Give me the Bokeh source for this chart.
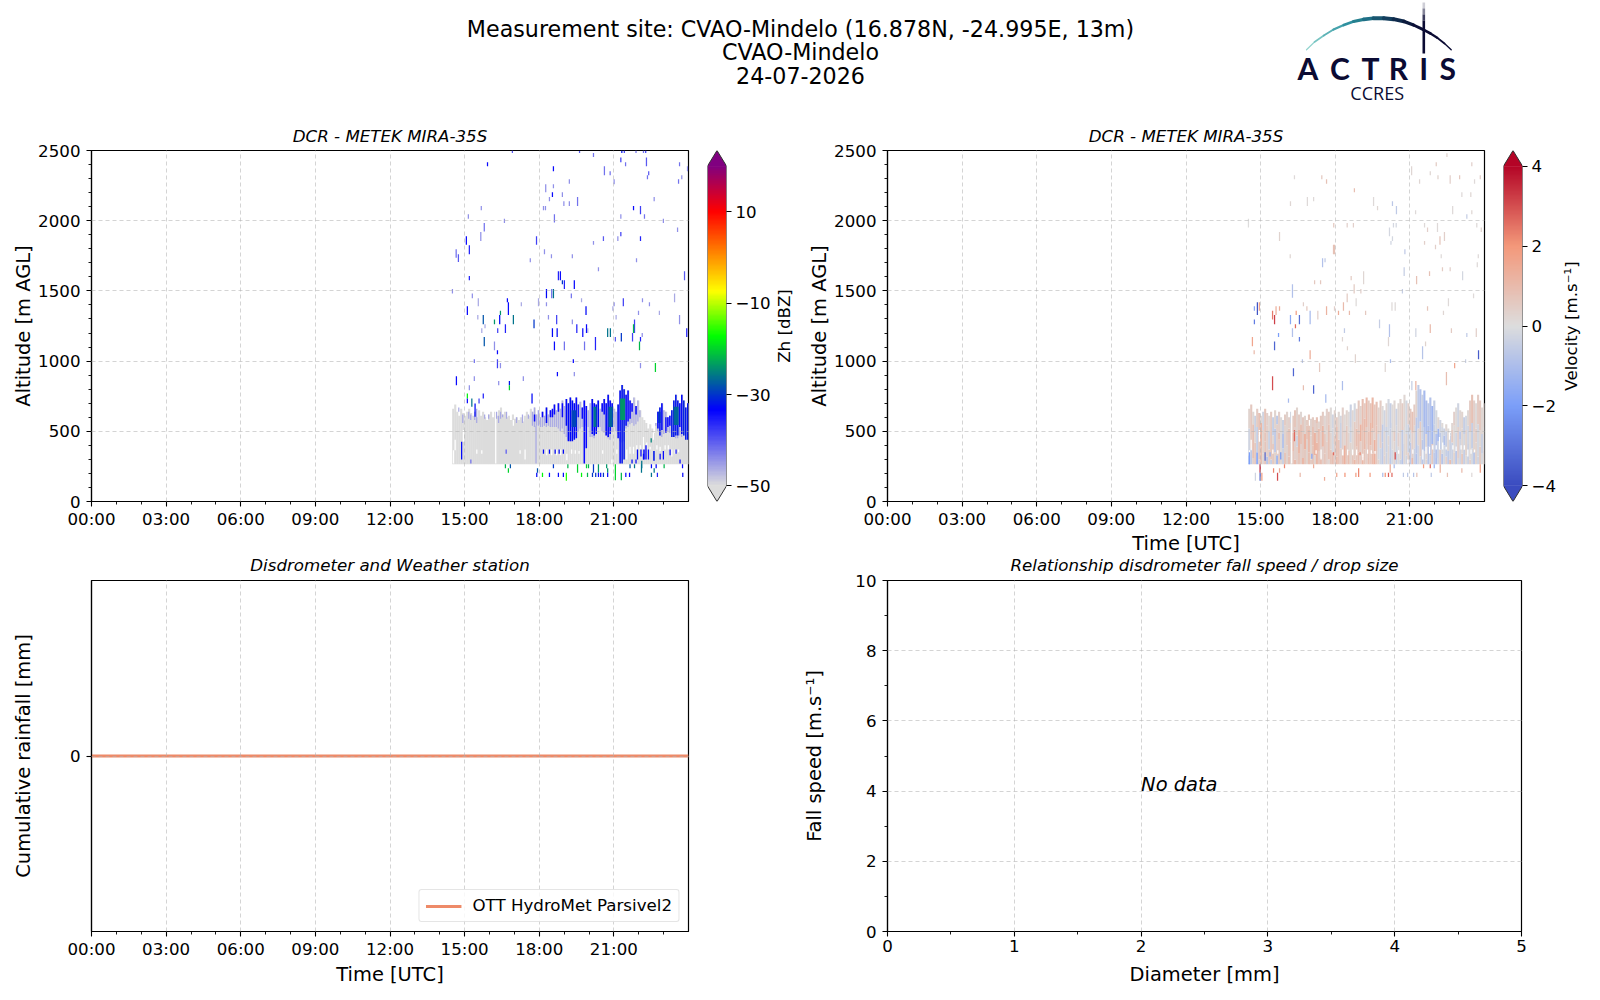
import math
import numpy as np
from bokeh.embed import file_html
from bokeh.resources import INLINE
from bokeh.plotting import figure
from bokeh.layouts import column, row
from bokeh.models import (ColumnDataSource, FixedTicker, Legend, LegendItem, LinearColorMapper, Title)
from bokeh.core.properties import value
from bokeh.transform import transform

# ---------------------------------------------------------------- texts
site_lines = ["Measurement site: CVAO-Mindelo (16.878N, -24.995E, 13m)", "CVAO-Mindelo", "24-07-2026"]
radar_title = "DCR - METEK MIRA-35S"
rain_title = "Disdrometer and Weather station"
fall_title = "Relationship disdrometer fall speed / drop size"
hour_ticks = [0, 3, 6, 9, 12, 15, 18, 21]
hour_labels = ["00:00", "03:00", "06:00", "09:00", "12:00", "15:00", "18:00", "21:00"]

# ---------------------------------------------------------------- radar columns (altitudes in m, 0.08 h columns from 14.5 h)
col_start = 14.5
col_step = 0.08
gray_top = [660,690,640,610,660,630,610,640,660,630,
            610,640,600,650,610,640,600,580,620,640,
            600,640,610,650,670,620,640,600,610,580,
            620,590,600,580,600,570,610,640,610,660,
            640,670,620,650,600,640,610,670,620,650,
            640,690,650,700,660,720,680,730,700,740,
            720,700,740,690,710,670,720,680,650,700,
            730,700,690,720,660,700,730,700,760,720,
            700,660,640,690,790,830,800,760,790,720,
            700,740,680,720,650,600,580,560,520,550,
            520,490,560,640,670,700,650,640,600,610,
            650,720,760,720,700,760,720,670,700]
gray_bottom = 265
light_lo = [0,0,0,640,0,560,0,0,590,580,
            0,580,560,0,0,0,590,0,590,0,
            0,0,590,560,590,600,0,590,0,0,
            0,0,560,0,0,560,0,0,590,0,
            540,530,540,540,530,530,540,530,540,530,
            530,530,530,520,500,520,480,460,440,430,
            440,450,470,500,520,530,530,540,530,460,
            460,450,510,520,530,500,490,470,450,440,
            500,530,500,480,430,420,430,520,530,550,
            560,540,550,570,600,0,0,0,0,0,
            0,0,540,500,470,460,480,500,500,490,
            480,460,450,450,470,460,470,480,480]
light_hi = [0,0,0,670,0,620,0,0,640,620,
            0,640,660,0,0,0,620,0,620,0,
            0,0,640,610,640,620,0,640,0,0,
            0,0,600,0,0,620,0,0,620,0,
            640,670,620,650,600,640,610,670,620,650,
            640,690,650,700,660,720,680,730,700,740,
            720,700,740,690,710,670,720,680,650,700,
            730,700,690,720,660,700,730,700,760,720,
            700,660,640,690,790,830,800,760,790,720,
            700,740,680,720,650,0,0,0,0,0,
            0,0,560,640,670,700,650,640,600,610,
            650,720,760,720,700,760,720,670,700]
deep_lo = [0]*40 + [0,570,0,0,0,600,0,560,0,600,
            600,620,0,640,0,600,0,540,430,430,
            430,440,450,600,0,590,270,380,0,0,
            480,470,480,530,0,640,620,470,460,480,
            530,0,0,450,270,270,300,540,570,590,
            640,0,620,0,0,0,300,300,0,0,
            0,290,0,520,470,510,0,490,530,540,
            460,460,470,470,530,480,470,440,440]
deep_hi = [0]*40 + [0,620,0,0,0,640,0,670,0,650,
            660,690,0,700,0,700,0,730,700,740,
            720,700,740,690,0,670,720,680,0,0,
            730,700,690,720,0,700,730,700,760,720,
            700,0,0,690,790,830,800,760,790,720,
            700,0,680,0,0,0,370,400,0,0,
            0,360,0,640,670,700,0,600,600,610,
            650,720,760,720,700,760,720,670,700]
deep_db = [-33]*40 + [-33,-34,-33,-33,-33,-34,-33,-33,-33,-34,
            -34,-34,-33,-34,-33,-34,-34,-33,-33,-33,
            -33,-33,-34,-35,-33,-34,-34,-34,-33,-33,
            -33,-33,-33,-33,-33,-34,-34,-33,-33,-33,
            -33,-33,-33,-33,-33,-32,-32,-33,-34,-34,
            -34,-33,-34,-33,-33,-33,-34,-36,-33,-33,
            -33,-32,-33,-33,-32,-33,-33,-35,-34,-34,
            -32,-32,-32,-32,-33,-33,-31,-32,-32]
light_db = -46

# teal cores inside the strongest streaks: start hour, end hour, lo, hi, dBZ
core_t0 = [19.30, 20.18, 20.78, 21.25, 23.40, 22.78]
core_t1 = [19.50, 20.30, 20.95, 21.45, 23.60, 22.88]
core_lo = [530, 530, 530, 580, 545, 560]
core_hi = [650, 675, 675, 733, 675, 640]
core_db = [-29, -26, -27, -24, -27, -30]

# white holes inside the mass: hour, lo, hi
gaps = [(16.25,270,700),(14.95,425,510),(14.62,365,440),(14.55,270,365),(15.69,340,365),(15.49,340,370),
        (16.96,540,580),(17.23,340,365),(17.43,300,370),(18.30,330,370),(18.50,330,370),(18.70,330,370),
        (18.86,330,370),(19.11,294,340),(20.92,270,300),(21.12,340,370),(21.65,340,390),(21.79,340,390),
        (21.92,370,400),(22.06,370,400),(22.19,370,460),(22.32,370,420),(22.46,370,390),(22.59,440,490),
        (22.73,370,400),(22.86,360,390),(23.06,370,400),(23.19,370,400),(23.33,320,370),(23.46,340,370),
        (23.60,350,370),(21.52,300,370),(19.30,340,370),(19.45,340,365),(19.60,340,360),(20.55,340,365)]

# isolated reflectivity returns: hour, lo, hi, dBZ
zh_specks = [
 (16.92,2483,2500,-40),(19.62,2483,2497,-40),(20.18,2454,2483,-42),(21.32,2483,2500,-32),(21.42,2483,2500,-38),
 (21.89,2483,2500,-42),(22.19,2483,2500,-42),(22.28,2483,2500,-38),(15.92,2388,2416,-34),(18.57,2352,2388,-34),
 (20.62,2324,2388,-42),(20.85,2324,2352,-42),(21.28,2416,2450,-38),(21.47,2388,2416,-42),(22.31,2388,2450,-40),
 (22.40,2324,2352,-40),(22.35,2295,2324,-42),(23.64,2388,2416,-42),(23.96,2352,2388,-44),(23.73,2295,2324,-44),
 (23.60,2264,2295,-42),(19.21,2264,2295,-44),(21.01,2260,2295,-44),(18.26,2203,2260,-44),(18.57,2231,2260,-44),
 (18.53,2169,2203,-34),(18.93,2169,2203,-44),(18.41,2139,2169,-44),(18.99,2105,2139,-44),(19.21,2105,2139,-44),
 (19.54,2105,2169,-42),(22.62,2139,2169,-44),(18.17,2074,2105,-44),(18.25,2074,2105,-44),(15.67,2074,2105,-44),
 (21.79,2074,2105,-34),(22.07,2046,2105,-38),(21.28,2013,2046,-44),(22.23,2013,2046,-42),(15.15,2013,2046,-44),
 (18.61,1987,2046,-42),(16.60,1984,2013,-44),(22.99,1984,2013,-44),(15.79,1923,1984,-42),(23.56,1920,1951,-44),
 (15.65,1856,1920,-44),(15.07,1828,1889,-34),(17.89,1828,1889,-38),(20.58,1856,1889,-40),(21.28,1889,1920,-38),
 (21.16,1856,1889,-44),(22.07,1856,1889,-36),(20.18,1828,1856,-44),(14.66,1737,1797,-42),(14.75,1706,1761,-40),
 (15.19,1761,1825,-36),(18.21,1761,1797,-44),(18.49,1733,1761,-44),(19.33,1733,1761,-44),(17.64,1704,1733,-44),
 (21.91,1704,1733,-44),(20.38,1640,1668,-44),(18.77,1576,1640,-36),(18.85,1576,1640,-34),(15.19,1576,1607,-36),
 (23.84,1576,1640,-40),(18.93,1547,1576,-30),(19.01,1514,1576,-36),(19.41,1514,1576,-34),(18.29,1448,1514,-33),
 (18.50,1448,1514,-42),(18.57,1448,1514,-26),(14.51,1481,1514,-44),(15.31,1448,1481,-44),(19.29,1448,1481,-42),
 (23.44,1419,1481,-46),(15.55,1391,1448,-46),(16.72,1419,1448,-34),(16.76,1329,1419,-34),(15.11,1329,1391,-34),
 (17.28,1391,1419,-46),(17.97,1391,1448,-46),(18.29,1391,1419,-44),(19.70,1419,1448,-46),(19.88,1329,1391,-33),
 (21.38,1391,1448,-38),(21.01,1391,1419,-44),(22.15,1419,1448,-44),(22.43,1391,1419,-44),(20.96,1358,1391,-46),
 (21.99,1329,1358,-44),(22.83,1329,1358,-46),(15.53,1296,1329,-46),(15.75,1263,1329,-28),(16.20,1263,1296,-24),
 (16.41,1263,1329,-33),(16.44,1329,1358,-24),(16.96,1263,1329,-26),(16.64,1201,1263,-36),(18.37,1296,1329,-44),
 (18.70,1263,1329,-38),(19.33,1263,1296,-44),(19.90,1201,1263,-34),(19.51,1201,1263,-36),(23.64,1263,1329,-44),
 (21.83,1201,1296,-38),(21.79,1201,1263,-22),(21.09,1296,1329,-46),(17.79,1234,1296,-30),(15.82,1234,1263,-46),
 (15.69,1201,1234,-46),(16.33,1201,1234,-38),(18.53,1172,1234,-33),(18.72,1172,1234,-33),(19.75,1172,1234,-34),
 (19.95,1201,1234,-46),(20.75,1172,1234,-26),(20.86,1172,1234,-26),(21.30,1139,1201,-30),(21.06,1139,1172,-40),
 (21.75,1139,1201,-38),(22.07,1139,1172,-36),(22.14,1172,1201,-44),(23.93,1172,1234,-36),(15.79,1106,1172,-28),
 (16.20,1077,1139,-44),(18.61,1077,1139,-34),(19.01,1077,1139,-42),(19.82,1077,1139,-42),(20.26,1077,1172,-36),
 (22.03,1077,1139,-22),(16.32,1049,1077,-34),(15.39,987,1013,-42),(16.32,949,1013,-38),(16.44,949,987,-44),
 (19.37,987,1013,-34),(22.07,949,987,-44),(22.67,923,987,-20),(18.73,892,923,-34),(19.41,892,923,-44),
 (14.67,828,892,-34),(15.39,859,892,-44),(16.37,828,859,-44),(16.80,828,859,-32),(16.80,792,828,-20),
 (17.36,859,892,-44),
 (16.64,237,265,-22),(16.76,204,237,-20),(16.84,237,265,-28),(18.57,237,265,-30),(19.15,237,265,-22),
 (19.54,204,265,-20),(19.90,237,265,-20),(19.98,237,265,-22),(20.18,204,265,-30),(20.38,204,265,-24),
 (20.71,237,265,-24),(20.75,204,237,-24),(21.06,152,265,-20),(21.30,152,204,-22),(21.65,237,265,-28),
 (21.83,237,265,-26),(22.11,204,265,-26),(22.51,237,265,-33),(22.62,204,237,-26),(22.70,237,265,-33),
 (23.02,237,265,-22),(23.76,237,265,-34),(17.93,204,237,-28),(17.90,175,204,-33),(18.13,175,204,-18),
 (18.41,175,204,-34),(18.77,175,204,-34),(18.97,175,204,-34),(19.09,147,204,-16),(19.70,175,204,-18),
 (19.94,175,204,-22),(20.14,175,204,-30),(20.27,175,204,-30),(20.38,175,204,-34),(20.47,175,204,-34),
 (20.58,175,204,-30),(20.75,175,204,-34),(21.48,175,204,-34),(21.63,175,204,-34),(22.51,175,204,-26),
 (22.75,175,204,-36),(23.77,175,204,-34),
 (15.11,733,769,-18),(15.11,700,733,-34),(15.29,674,733,-26),(15.58,698,733,-38),(15.75,733,769,-36),
 (15.42,603,698,-33),(15.19,793,828,-44),(17.71,698,769,-33),
 (18.17,340,370,-33),(18.41,340,370,-33),(18.64,340,370,-33),(18.80,340,370,-33),(18.97,340,370,-33),
 (21.95,300,370,-33),(22.09,320,370,-34),(22.19,300,340,-33),(22.39,300,370,-34),(22.50,420,450,-25),
 (22.86,300,340,-33),(22.99,300,360,-34),(23.26,330,370,-34),(23.50,340,370,-35),(23.66,270,300,-34),
 (22.12,237,290,-26),(21.89,270,300,-34),(21.73,270,300,-33),(14.88,300,425,-33),(15.25,270,300,-42),
 (17.87,270,540,-46),(16.67,340,370,-40)]

# velocity per column in three layers (m/s), with the altitude of the layer limits
v_low = [-1.2,-0.6,0.4,0.6,-1.6,0.4,0.9,0.2,0.7,-0.8,
         0.5,-0.5,0.6,0.3,-1.2,0.5,0.2,-0.4,0.7,0.3,
         0.8,0.2,0.6,1.0,0.4,0.7,0.4,1.1,0.6,0.3,
         0.9,0.5,0.7,0.2,1.1,0.6,0.9,0.4,0.7,0.4,
         0.2,0.7,0.9,0.4,1.0,0.7,0.4,0.8,1.3,0.5,
         0.9,0.3,0.7,1.1,0.6,0.9,0.4,1.1,0.7,0.4,
         0.9,0.6,1.0,1.3,0.6,0.3,-0.3,-0.6,0.3,-0.4,
         0.2,-0.6,-0.2,0.3,-0.5,0.1,-0.4,-0.8,0.2,-0.3,
         0.4,-0.6,1.0,-0.4,-0.9,-0.3,0.2,-0.7,-0.4,0.3,
         -0.8,-0.4,0.6,-0.6,-1.0,-0.3,0.5,-0.8,-0.2,0.4,
         -0.6,0.9,-0.4,0.3,-0.7,0.2,-0.3,0.6,-0.5,0.1,
         -0.4,0.4,-0.2,-0.7,0.3,-0.3,0.5,-0.1,0.2]
v_mid = [-0.3,0.5,0.8,0.2,-0.5,0.6,1.1,0.3,0.7,0.4,
         -0.4,0.6,0.2,-0.6,0.4,0.8,0.1,-0.8,0.3,0.5,
         0.7,0.2,0.9,0.4,-0.3,1.1,0.8,0.5,1.2,0.7,
         1.0,0.3,0.8,1.2,0.5,0.9,0.4,1.1,0.6,0.2,
         0.8,0.3,-0.2,0.5,0.8,0.2,-0.4,0.4,0.2,0.6,
         0.3,-0.3,0.2,0.5,0.9,0.8,1.2,0.7,1.0,0.5,
         0.8,1.1,0.6,0.3,0.8,-0.2,0.4,-0.6,0.2,-0.4,
         0.2,-0.5,0.1,0.5,-0.3,0.4,0.2,-0.6,0.1,0.3,
         -0.4,-0.2,0.4,0.2,-0.7,0.2,0.5,-0.3,-0.8,0.2,
         -1.0,-0.7,-1.2,-0.4,-0.9,-1.3,-0.6,-0.2,-0.9,-0.5,
         0.2,-0.4,0.5,0.1,-0.3,0.4,-0.6,0.2,-0.2,0.3,
         -0.3,0.1,-0.5,0.3,0.4,-0.2,0.2,-0.4,0.1]
v_up = [0.3,0.6,0.2,-0.4,0.5,0.8,0.2,-0.3,0.7,0.4,
        0.2,0.5,-0.5,0.3,-0.6,0.4,0.1,-0.4,0.5,0.3,
        0.4,-0.2,0.5,0.7,0.3,0.5,0.2,0.6,0.3,0.5,
        0.7,0.3,0.5,0.4,0.8,0.3,0.6,0.5,0.2,0.4,
        0.5,0.1,-0.3,0.3,0.5,0.2,-0.2,0.4,0.1,0.3,
        0.1,-0.4,0.2,-0.2,0.4,0.6,0.3,0.9,0.5,1.0,
        0.5,0.7,1.1,0.6,0.8,0.3,0.5,0.1,-0.3,0.2,
        -0.2,-0.5,0.1,0.2,-0.4,0.2,0.3,0.5,0.2,-0.2,
        0.4,0.6,0.8,0.5,0.3,-0.6,-0.9,-0.4,-1.1,-1.0,
        -0.6,-0.9,-1.3,-0.5,-0.2,0.2,-0.3,0.1,-0.4,0.2,
        0.1,-0.2,0.2,0.4,0.1,-0.3,0.2,0.3,-0.5,-0.2,
        0.2,0.5,0.8,0.4,0.1,0.5,0.6,0.2,0.2]
low_tops = [330,380,310,420,350,300,390,340,430,320,
            370,300,410,350,330,440,310,380,350,400,
            320,430,360,300,390,340,410,310,370,440,
            350,300,400,330,420,360,310,390,340,430,
            300,370,350,410,320,440,380,330,400,310,
            360,420,340,300,390,350,430,320,370,410,
            310,400,340,440,360,300,380,420,330,350,
            400,310,370,430,340,390,300,360,410,330,
            350,420,310,380,340,400,320,440,360,300,
            390,330,410,350,310,430,370,340,400,320,
            360,300,420,350,390,310,440,340,370,330,
            410,300,380,350,420,320,390,340,360]
mid_tops = [520,480,550,500,530,470,560,510,490,540,
            500,530,470,520,550,490,510,480,540,500,
            520,560,490,530,470,510,550,500,480,540,
            510,470,530,490,560,520,500,540,480,510,
            550,490,520,470,530,500,560,480,510,540,
            490,530,500,570,520,480,550,510,590,530,
            500,560,520,490,540,480,510,550,500,530,
            470,520,560,500,540,490,580,510,530,480,
            550,510,490,540,600,520,570,500,530,480,
            540,510,500,550,480,520,490,530,470,500,
            480,470,510,540,490,530,500,520,480,510,
            540,500,560,490,520,550,510,480,530]

# isolated velocity returns: hour, lo, hi, m/s
vel_specks = [
 (22.49,2454,2480,0.3),(22.06,2388,2416,0.5),(23.49,2388,2416,0.4),(21.07,2324,2388,0.2),(21.82,2324,2352,0.2),
 (16.36,2295,2324,0.1),(17.46,2295,2324,0.6),(17.65,2264,2295,0.8),(22.13,2295,2324,0.3),(22.62,2264,2324,0.4),
 (23.00,2295,2324,0.6),(21.39,2264,2295,0.2),(23.83,2295,2324,0.4),(23.60,2264,2295,0.1),(18.77,2203,2231,0.9),
 (23.09,2169,2203,0.1),(23.45,2169,2203,0.2),(16.20,2105,2139,0.2),(16.88,2105,2169,0.1),(17.13,2139,2169,0.1),
 (19.54,2105,2169,0.1),(19.70,2074,2105,0.2),(20.30,2105,2139,-0.7),(20.46,2046,2105,-0.6),(21.23,2046,2074,0.1),
 (22.72,2046,2105,0.1),(23.29,2013,2046,-0.5),(23.49,2046,2074,0.2),(14.51,1951,2013,0.0),(17.94,1951,1984,0.6),
 (18.48,1951,1984,0.4),(18.73,1951,1984,0.4),(21.59,1951,1984,0.1),(20.34,1951,1984,-0.2),(20.45,1951,1984,-0.2),
 (20.18,1889,1951,-0.2),(21.71,1920,1951,0.4),(22.11,1920,1984,0.1),(23.69,1951,1984,0.1),(23.87,1920,1951,0.3),
 (15.76,1856,1920,0.3),(20.30,1856,1889,-0.2),(20.24,1828,1856,-0.3),(22.21,1828,1889,0.7),(22.39,1856,1920,0.4),
 (21.59,1828,1856,0.4),(22.03,1797,1828,0.4),(17.93,1761,1828,0.8),(17.97,1761,1828,0.8),(20.80,1761,1797,-0.6),
 (16.19,1733,1761,0.2),(22.26,1733,1761,0.1),(23.75,1733,1761,0.1),(17.59,1704,1733,-0.6),(17.49,1668,1733,-0.9),
 (20.77,1607,1668,-0.5),(23.71,1668,1704,0.1),(22.31,1640,1668,0.5),(22.62,1640,1668,0.4),(21.79,1607,1640,0.8),
 (23.12,1576,1640,-0.2),(19.14,1547,1640,0.2),(21.27,1547,1607,0.8),(18.64,1576,1607,0.5),(16.28,1452,1547,-0.9),
 (18.76,1481,1547,0.5),(17.17,1547,1576,0.6),(17.41,1547,1576,0.6),(19.03,1481,1514,0.4),(20.70,1481,1514,-0.5),
 (23.56,1448,1481,0.1),(18.48,1419,1481,0.5),(22.55,1391,1448,0.1),(18.84,1391,1448,0.1),
 (14.87,1329,1419,-3.8),(14.95,1358,1419,1.6),(14.75,1358,1391,-1.8),(15.48,1296,1358,2.4),(15.56,1263,1329,3.2),
 (15.62,1329,1391,1.3),(15.76,1358,1391,1.4),(14.75,1263,1296,-2.8),(16.20,1263,1329,-1.7),(16.56,1263,1329,-3.2),
 (16.43,1329,1358,1.8),(16.40,1234,1263,2.6),(16.72,1391,1419,0.4),(16.86,1358,1391,0.6),(16.99,1263,1358,-1.1),
 (17.30,1296,1358,0.4),(17.65,1329,1391,1.2),(17.97,1358,1391,0.4),(18.13,1329,1358,1.4),(18.33,1358,1419,1.0),
 (18.57,1329,1358,1.0),(19.22,1329,1358,0.6),(20.28,1358,1419,0.1),(20.41,1358,1419,0.1),(21.71,1358,1391,0.7),
 (22.35,1329,1358,0.2),(19.78,1234,1296,-0.5),(20.18,1172,1263,-0.9),(18.37,1201,1234,-0.6),(21.24,1172,1234,-0.3),
 (21.82,1201,1263,1.0),(22.67,1201,1234,0.5),(23.29,1172,1201,-0.6),(23.67,1172,1234,0.4),(15.72,1172,1201,-2.0),
 (16.28,1172,1234,-0.9),(16.56,1139,1172,-2.9),(18.29,1139,1172,0.2),(20.14,1106,1172,0.2),(14.67,1106,1172,1.6),
 (15.56,1077,1139,-3.4),(14.74,1049,1077,1.0),(16.99,1013,1077,1.4),(18.49,1077,1106,0.3),(21.63,1106,1139,0.3),
 (21.51,1013,1106,-0.8),(23.76,1013,1077,-3.6),(18.81,987,1049,0.3),(16.68,987,1013,-0.7),(20.22,987,1013,-1.0),
 (23.24,987,1013,-0.4),(17.37,923,987,0.6),(20.01,923,987,0.2),(22.80,949,987,1.6),(16.32,892,949,-3.4),
 (22.47,828,923,0.9),(15.48,792,892,3.0),(16.72,792,828,0.9),(17.13,768,828,-3.4),(18.29,792,859,-1.0),
 (21.24,792,859,1.2),(21.08,792,859,-0.5),(17.62,703,764,-1.1),(16.12,703,733,-1.1),
 (14.98,204,265,3.8),(14.98,147,204,-3.6),(15.52,204,237,2.2),(15.76,204,237,1.4),(15.68,147,204,3.0),
 (15.96,237,265,2.2),(15.05,147,204,1.8),(14.79,147,204,-0.3),(16.59,175,204,1.0),(17.13,237,265,1.4),
 (17.57,147,175,1.4),(18.06,175,204,1.6),(18.39,175,204,2.0),(18.83,175,204,1.8),(18.94,175,237,2.2),
 (19.40,175,204,1.8),(19.91,175,204,-1.0),(20.01,175,204,2.0),(20.14,175,204,2.8),(20.28,175,204,2.6),
 (20.21,204,265,1.4),(20.37,237,265,-1.0),(20.74,175,204,-0.6),(20.91,175,204,-0.6),(21.15,175,204,-0.8),
 (21.28,175,204,0.8),(21.82,237,265,2.6),(21.86,175,204,-0.6),(21.55,237,265,1.8),(21.98,237,265,-1.4),
 (22.22,204,265,1.2),(22.51,175,204,0.8),(23.09,204,237,1.0),(23.49,175,204,0.1),(23.83,204,265,1.8),
 (14.55,265,350,-2.0),(15.18,290,350,-3.2),(15.38,320,350,-1.5),(15.81,300,350,-2.2),(16.36,430,510,2.6),
 (17.06,305,340,-1.8),(17.93,330,350,2.6),(20.41,300,350,3.0),(19.00,330,350,2.2)]

# rainfall and (empty) disdrometer data
rain_hours = [0, 6, 12, 18, 24]
rain_cumul = [0, 0, 0, 0, 0]
legend_label = "OTT HydroMet Parsivel2"
no_data_text = "No data"
no_data_at = (2, 4)

# logo artwork (page coordinates)
logo_arc_x = [1306,1314,1323.3,1333,1343.3,1353,1363.3,1373,1383.3,1393,1403.3,1413,1423.3,1430,1436.7,1444,1450.7]
logo_arc_y = [49.3,41.5,35,29,24.5,21,18.9,17.8,17.7,18.7,20.9,24.5,29.3,33,37.3,43,49.3]
logo_arc_col = ["#93d4cf","#78c4c2","#5cb2b6","#45a2ac","#2f909f","#25808f","#1f6f86","#195670",
                "#143f5e","#0f2a4c","#0c1a3d","#0b0f36","#0b0b33","#0b0b33","#0b0b33","#0b0b33"]
logo_arc_w = [1.2,1.6,2,2.4,2.8,3.2,3.6,4,4,3.8,3.4,3,2.6,2.2,1.8,1.4]
logo_letters = ["A", "C", "T", "R", "I", "S"]
logo_letter_x = [1307.3, 1339.3, 1370, 1398, 1423.3, 1447.3]

# ---------------------------------------------------------------- colours
FONT = "DejaVu Sans"
INK = "#0b0b33"
GRID = "#b0b0b0"
TOP_H = 38
FRAME_H = 351
BOTTOM_H = 60

def ramp(stops, colors, n=256):
    cs = np.array([[int(c[i:i + 2], 16) for i in (1, 3, 5)] for c in colors], float)
    xs = np.linspace(stops[0], stops[-1], n)
    rgb = np.stack([np.interp(xs, stops, cs[:, k]) for k in range(3)], 1).round().astype(int)
    return ["#%02x%02x%02x" % tuple(v) for v in rgb]

zh_pal = ramp([-50, -33.4, -17.3, -7.5, 10, 20], ["#dcdcdc", "#0000ff", "#00ff00", "#ffff00", "#ff0000", "#800080"])
v_pal = ramp([-4, -2, 0, 2, 4], ["#3b4cc0", "#7c9ff9", "#dddddd", "#f4987a", "#b40426"])
zh_map = LinearColorMapper(palette=zh_pal, low=-50, high=20)
v_map = LinearColorMapper(palette=v_pal, low=-4, high=4)

# ---------------------------------------------------------------- helpers
def style_axis(ax, major, minor=None, labels=None, tick_standoff=3, label_standoff=0):
    ax.ticker = FixedTicker(ticks=major, minor_ticks=minor or [])
    if labels:
        ax.major_label_overrides = labels
    ax.major_label_text_font = FONT
    ax.major_label_text_font_size = "16.67px"
    ax.major_label_text_color = "black"
    ax.major_label_standoff = tick_standoff
    ax.axis_label_text_font = FONT
    ax.axis_label_text_font_size = "19.44px"
    ax.axis_label_text_font_style = "normal"
    ax.axis_label_text_color = "black"
    ax.axis_label_standoff = label_standoff
    ax.axis_line_color = "black"
    ax.axis_line_width = 1.2
    ax.major_tick_line_color = "black"
    ax.major_tick_line_width = 1.1
    ax.minor_tick_line_color = "black"
    ax.minor_tick_line_width = 0.9
    ax.major_tick_in = 0
    ax.major_tick_out = 5
    ax.minor_tick_in = 0
    ax.minor_tick_out = 3

def panel(title, b_left, frame_w, b_right, b_top, frame_h, b_bottom, xr, yr, title_standoff, clear_border=False):
    p = figure(width=b_left + frame_w + b_right, height=b_top + frame_h + b_bottom,
               x_range=xr, y_range=yr, output_backend="svg", toolbar_location=None,
               min_border_left=b_left, min_border_right=b_right, min_border_top=b_top, min_border_bottom=b_bottom,
               background_fill_color="white", border_fill_color="white")
    if clear_border:
        p.border_fill_alpha = 0
    p.outline_line_color = "black"
    p.outline_line_width = 1.2
    p.outline_line_alpha = 1
    for g in (p.xgrid[0], p.ygrid[0]):
        g.level = "overlay"
        g.grid_line_color = GRID
        g.grid_line_alpha = 0.55
        g.grid_line_width = 1
        g.grid_line_dash = "4 3"
    p.add_layout(Title(text=title, text_font=FONT, text_font_size="16.67px", text_font_style="italic",
                       text_color="black", align="center", standoff=title_standoff), "above")
    return p

def quads(p, left, right, lo, hi, val, mapper):
    src = ColumnDataSource(dict(left=left, right=right, bottom=lo, top=hi, val=val))
    p.quad(left="left", right="right", bottom="bottom", top="top", source=src,
           fill_color=transform("val", mapper), line_color=None)

def whites(p):
    left = [g[0] - 0.025 for g in gaps]
    right = [g[0] + 0.025 for g in gaps]
    p.quad(left=left, right=right, bottom=[g[1] for g in gaps], top=[g[2] for g in gaps],
           fill_color="white", line_color=None)

def specks(p, rows, mapper):
    left = [r[0] - 0.025 for r in rows]
    right = [r[0] + 0.025 for r in rows]
    quads(p, left, right, [r[1] for r in rows], [r[2] for r in rows], [r[3] for r in rows], mapper)

def colorbar(low, high, tri, b_right, major, labels, mapper, low_col, high_col):
    p = figure(width=19 + b_right, height=TOP_H + FRAME_H + BOTTOM_H, x_range=(0, 1), y_range=(low - tri, high + tri),
               output_backend="svg", toolbar_location=None, x_axis_location=None, y_axis_location="right",
               min_border_left=0, min_border_right=b_right, min_border_top=TOP_H, min_border_bottom=BOTTOM_H)
    p.outline_line_color = None
    p.grid.visible = False
    p.image(image=[np.linspace(low, high, 256).reshape(-1, 1)], x=0, y=low, dw=1, dh=high - low, color_mapper=mapper)
    p.patch([0, 0.5, 1], [high, high + tri, high], fill_color=high_col, line_color=None)
    p.patch([0, 0.5, 1], [low, low - tri, low], fill_color=low_col, line_color=None)
    p.line([0, 0, 0.5, 1, 1, 0.5, 0], [low, high, high + tri, high, low, low - tri, low], line_color="#333333", line_width=1)
    ax = p.yaxis[0]
    style_axis(ax, major, None, labels, tick_standoff=4)
    ax.axis_line_color = None
    return p

def side_label(text, width, at):
    p = figure(width=width, height=TOP_H + FRAME_H + BOTTOM_H, x_range=(0, width), y_range=(0, 1),
               output_backend="svg", toolbar_location=None, x_axis_location=None, y_axis_location=None,
               min_border_left=0, min_border_right=0, min_border_top=TOP_H, min_border_bottom=BOTTOM_H)
    p.outline_line_color = None
    p.grid.visible = False
    p.text([at], [0.5], text=[text], text_font=value(FONT), text_font_size="16.67px", angle=math.pi / 2,
           text_align="center", text_baseline="middle", text_color="black")
    return p

# ---------------------------------------------------------------- radar panels
n_col = len(gray_top)
col_left = [col_start + col_step * i for i in range(n_col)]
col_right = [c + col_step + 0.005 for c in col_left]
streak_right = [c + 0.05 for c in col_left]
deep_right = [c + 0.062 for c in col_left]
alt_major = [0, 500, 1000, 1500, 2000, 2500]
alt_minor = list(range(100, 2500, 100))
hour_minor = list(range(1, 24))
hour_over = dict(zip(hour_ticks, hour_labels))

p1 = panel(radar_title, 91, 597, 19, TOP_H, FRAME_H, BOTTOM_H, (0, 24), (0, 2500), 9)
style_axis(p1.xaxis[0], hour_ticks, hour_minor, hour_over)
style_axis(p1.yaxis[0], alt_major, alt_minor, tick_standoff=6)
p1.yaxis[0].axis_label = "Altitude [m AGL]"
quads(p1, col_left, col_right, [gray_bottom] * n_col, gray_top, [-50] * n_col, zh_map)
whites(p1)
quads(p1, col_left, streak_right, light_lo, light_hi, [light_db] * n_col, zh_map)
quads(p1, col_left, deep_right, deep_lo, deep_hi, deep_db, zh_map)
quads(p1, core_t0, core_t1, core_lo, core_hi, core_db, zh_map)
specks(p1, zh_specks, zh_map)

cb1 = colorbar(-50, 20, 3.4, 48, [-50, -30, -10, 10],
               {-50: "\u221250", -30: "\u221230", -10: "\u221210", 10: "10"}, zh_map, "#dcdcdc", "#800080")
lab1 = side_label("Zh [dBZ]", 30, 10)

p2 = panel(radar_title, 83, 597, 19, TOP_H, FRAME_H, BOTTOM_H, (0, 24), (0, 2500), 9)
style_axis(p2.xaxis[0], hour_ticks, hour_minor, hour_over, label_standoff=0)
style_axis(p2.yaxis[0], alt_major, alt_minor, tick_standoff=6)
p2.yaxis[0].axis_label = "Altitude [m AGL]"
p2.xaxis[0].axis_label = "Time [UTC]"
quads(p2, col_left, col_right, [gray_bottom] * n_col, [min(t, b) for t, b in zip(gray_top, low_tops)], v_low, v_map)
quads(p2, col_left, col_right, low_tops, [max(b, min(t, m)) for t, b, m in zip(gray_top, low_tops, mid_tops)], v_mid, v_map)
quads(p2, col_left, col_right, mid_tops, [max(t, m) for t, m in zip(gray_top, mid_tops)], v_up, v_map)
whites(p2)
specks(p2, vel_specks, v_map)

cb2 = colorbar(-4, 4, 0.39, 39, [-4, -2, 0, 2, 4],
               {-4: "\u22124", -2: "\u22122", 0: "0", 2: "2", 4: "4"}, v_map, "#3b4cc0", "#b40426")
lab2 = side_label("Velocity [m.s\u207b\u00b9]", 31, 10)

# ---------------------------------------------------------------- lower panels
p3 = panel(rain_title, 91, 597, 112, 33, FRAME_H, BOTTOM_H, (0, 24), (-1, 1), 12, clear_border=True)
style_axis(p3.xaxis[0], hour_ticks, hour_minor, hour_over, label_standoff=1)
style_axis(p3.yaxis[0], [0], tick_standoff=6, label_standoff=32)
p3.xaxis[0].axis_label = "Time [UTC]"
p3.yaxis[0].axis_label = "Cumulative rainfall [mm]"
rain_line = p3.line(rain_hours, rain_cumul, line_color="#ee8a68", line_width=3)
leg = Legend(items=[LegendItem(label=legend_label, renderers=[rain_line])], location="bottom_right",
             label_text_font=FONT, label_text_font_size="16.67px", label_text_color="black",
             label_standoff=11, glyph_width=36, glyph_height=14,
             margin=9, padding=6, border_line_color="#cccccc", border_line_width=1, background_fill_alpha=0.8)
if "border_radius" in Legend.properties():
    leg.border_radius = 3
p3.add_layout(leg, "center")

p4 = panel(fall_title, 87, 634, 71, 33, FRAME_H, BOTTOM_H, (0, 5), (0, 10), 12, clear_border=True)
style_axis(p4.xaxis[0], [0, 1, 2, 3, 4, 5], [0.5, 1.5, 2.5, 3.5, 4.5], label_standoff=8)
style_axis(p4.yaxis[0], [0, 2, 4, 6, 8, 10], [1, 3, 5, 7, 9], tick_standoff=6, label_standoff=26)
p4.xaxis[0].axis_label = "Diameter [mm]"
p4.yaxis[0].axis_label = "Fall speed [m.s\u207b\u00b9]"
p4.text([no_data_at[0]], [no_data_at[1]], text=[no_data_text], text_font=value(FONT), text_font_size="19.44px",
        text_font_style="italic", text_color="black", text_baseline="middle", text_align="left", y_offset=-7)

# ---------------------------------------------------------------- header with centred titles and logo
head = figure(width=1592, height=112, x_range=(0, 1592), y_range=(112, 0), output_backend="svg",
              toolbar_location=None, x_axis_location=None, y_axis_location=None,
              min_border_left=0, min_border_right=0, min_border_top=0, min_border_bottom=0)
head.outline_line_color = None
head.grid.visible = False
head.text([800, 800, 800], [28, 51.5, 75], text=site_lines, text_font=value(FONT), text_font_size="22.2px",
          text_align="center", text_baseline="middle", text_color="black")
head.multi_line([[logo_arc_x[i], logo_arc_x[i + 1]] for i in range(len(logo_arc_col))],
                [[logo_arc_y[i], logo_arc_y[i + 1]] for i in range(len(logo_arc_col))],
                line_color=logo_arc_col, line_width=logo_arc_w, line_cap="round")
bar_y = [2, 8, 14, 20, 53]
bar_alpha = [0.2, 0.5, 0.8, 1]
head.multi_line([[1423.3, 1423.3] for _ in bar_alpha], [[bar_y[i], bar_y[i + 1]] for i in range(4)],
                line_color=INK, line_alpha=bar_alpha, line_width=2.6)
head.text(logo_letter_x, [67.5] * 6, text=logo_letters, text_font=value("Lato"), text_font_size="30px",
          text_font_style="bold", text_align="center", text_baseline="middle", text_color=INK)
head.text([1376.7], [92], text=["CCRES"], text_font=value("Open Sans"), text_font_size="18px",
          text_align="center", text_baseline="middle", text_color=INK)

page = column(head, row(p1, cb1, lab1, p2, cb2, lab2, spacing=0),
              row(p3, p4, spacing=0, margin=(-14, 0, 0, 0)), spacing=0)
open("out.html", "w").write(file_html(page, INLINE))
